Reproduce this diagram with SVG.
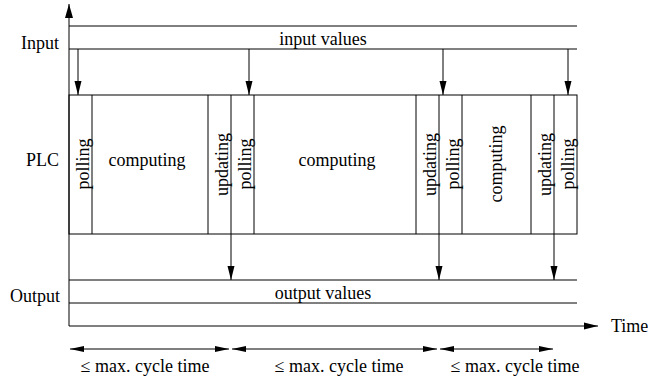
<svg xmlns="http://www.w3.org/2000/svg" width="648" height="383" viewBox="0 0 648 383">
<defs>
<style>
text{font-family:"Liberation Serif","Times New Roman",serif;font-size:18px;fill:#000}
.ln{stroke:#000;stroke-width:1;fill:none}
.m{text-anchor:middle}
.e{text-anchor:end}
</style>
<marker id="ah" markerUnits="userSpaceOnUse" markerWidth="14" markerHeight="8" refX="14" refY="3.5" orient="auto" viewBox="0 0 14 7">
<path d="M0,0 L14,3.5 L0,7 Z" fill="#000"/>
</marker>
<marker id="ahs" markerUnits="userSpaceOnUse" markerWidth="14" markerHeight="8" refX="14" refY="3" orient="auto-start-reverse" viewBox="0 0 14 6">
<path d="M0,0 L14,3 L0,6 Z" fill="#000"/>
</marker>
<marker id="ahb" markerUnits="userSpaceOnUse" markerWidth="14" markerHeight="9" refX="14" refY="4" orient="auto" viewBox="0 0 14 8">
<path d="M0,0 L14,4 L0,8 Z" fill="#000"/>
</marker>
</defs>
<rect width="648" height="383" fill="#fff"/>

<g id="axes">
<line class="ln" x1="69" y1="326" x2="69" y2="4" marker-end="url(#ahb)"/>
<line class="ln" x1="69" y1="326" x2="598" y2="326" marker-end="url(#ah)"/>
<text x="611" y="332">Time</text>
</g>

<g id="input">
<line class="ln" x1="69" y1="26" x2="577" y2="26"/>
<line class="ln" x1="69" y1="49" x2="577" y2="49"/>
<text class="e" x="59" y="49">Input</text>
<text class="m" x="323" y="45">input values</text>
</g>

<g id="plc">
<text class="e" x="59" y="166">PLC</text>
<rect class="ln" x="69" y="95" width="508" height="139"/>
<line class="ln" x1="92" y1="95" x2="92" y2="234"/>
<line class="ln" x1="208" y1="95" x2="208" y2="234"/>
<line class="ln" x1="231" y1="95" x2="231" y2="234"/>
<line class="ln" x1="254" y1="95" x2="254" y2="234"/>
<line class="ln" x1="416" y1="95" x2="416" y2="234"/>
<line class="ln" x1="439" y1="95" x2="439" y2="234"/>
<line class="ln" x1="462" y1="95" x2="462" y2="234"/>
<line class="ln" x1="531" y1="95" x2="531" y2="234"/>
<line class="ln" x1="554" y1="95" x2="554" y2="234"/>
</g>

<g id="phase-polling-1"><text class="m" transform="translate(88.5,164) rotate(-90)">polling</text></g>
<g id="phase-computing-1"><text class="m" x="147" y="166">computing</text></g>
<g id="phase-updating-1"><text class="m" transform="translate(228,164.5) rotate(-90)">updating</text></g>
<g id="phase-polling-2"><text class="m" transform="translate(251,164) rotate(-90)">polling</text></g>
<g id="phase-computing-2"><text class="m" x="337" y="166">computing</text></g>
<g id="phase-updating-2"><text class="m" transform="translate(436,164.5) rotate(-90)">updating</text></g>
<g id="phase-polling-3"><text class="m" transform="translate(459,164) rotate(-90)">polling</text></g>
<g id="phase-computing-3"><text class="m" transform="translate(502,164) rotate(-90)">computing</text></g>
<g id="phase-updating-3"><text class="m" transform="translate(551,164.5) rotate(-90)">updating</text></g>
<g id="phase-polling-4"><text class="m" transform="translate(574,164) rotate(-90)">polling</text></g>

<g id="output">
<line class="ln" x1="69" y1="280" x2="577" y2="280"/>
<line class="ln" x1="69" y1="303" x2="577" y2="303"/>
<text class="e" x="60" y="302">Output</text>
<text class="m" x="323" y="299">output values</text>
</g>

<g id="cycle-labels">
<text class="m" x="145" y="372">≤ max. cycle time</text>
<text class="m" x="339" y="372">≤ max. cycle time</text>
<text class="m" x="515" y="372">≤ max. cycle time</text>
</g>

<g id="connectors">
<line class="ln" x1="78" y1="49" x2="78" y2="95" marker-end="url(#ah)"/>
<line class="ln" x1="249" y1="49" x2="249" y2="95" marker-end="url(#ah)"/>
<line class="ln" x1="443" y1="49" x2="443" y2="95" marker-end="url(#ah)"/>
<line class="ln" x1="568" y1="49" x2="568" y2="95" marker-end="url(#ah)"/>
<line class="ln" x1="231" y1="234" x2="231" y2="280" marker-end="url(#ah)"/>
<line class="ln" x1="439" y1="234" x2="439" y2="280" marker-end="url(#ah)"/>
<line class="ln" x1="554" y1="234" x2="554" y2="280" marker-end="url(#ah)"/>
<line class="ln" x1="70" y1="349" x2="229" y2="349" marker-start="url(#ahs)" marker-end="url(#ahs)"/>
<line class="ln" x1="232" y1="349" x2="437" y2="349" marker-start="url(#ahs)" marker-end="url(#ahs)"/>
<line class="ln" x1="440" y1="349" x2="553" y2="349" marker-start="url(#ahs)" marker-end="url(#ahs)"/>
</g>
</svg>
